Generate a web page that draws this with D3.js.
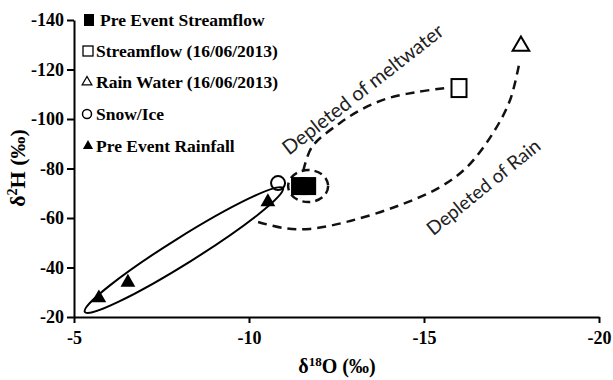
<!DOCTYPE html>
<meta charset="utf-8">

<style>

body { margin: 0; background: #fff; }

.axis path, .axis line { stroke: #000; stroke-width: 2px; }
.axis text { font: bold 18px "Liberation Serif", serif; fill: #000; }
.title { font: bold 20px "Liberation Serif", serif; fill: #000; }
.legend text { font: bold 17.5px "Liberation Serif", serif; fill: #000; }
.dash { fill: none; stroke: #111; stroke-width: 2.5px; stroke-dasharray: 9,6; }
.note { font: 20px Lato, sans-serif; fill: #222; }

</style>

<body>

<script src="https://d3js.org/d3.v7.min.js"></script>

<script>

	// tick values
	var xTicks = [-5, -10, -15, -20];
	var yTicks = [-20, -40, -60, -80, -100, -120, -140];

	// samples (d18O, d2H)
	var preStream  = [{x: -11.43, y: -72.9}, {x: -11.69, y: -72.9}];
	var stream     = [{x: -16.0, y: -112.5}];
	var rainWater  = [{x: -17.77, y: -129.5}];
	var snowIce    = [{x: -10.83, y: -74.1}];
	var preRain    = [{x: -5.71, y: -27.7}, {x: -6.54, y: -34.0}, {x: -10.54, y: -66.5}];

	// hand drawn guides
	var meltPath = [{x: -11.55, y: -79}, {x: -11.8, y: -88.7}, {x: -12.6, y: -98.4}, {x: -13.3, y: -104.5},
	                {x: -14.0, y: -108.5}, {x: -14.8, y: -110.9}, {x: -15.6, y: -112.5}];
	var rainPath = [{x: -10.26, y: -58.4}, {x: -10.97, y: -56.0}, {x: -11.74, y: -55.6}, {x: -12.89, y: -58.8},
	                {x: -14.31, y: -65.2}, {x: -15.46, y: -72.5}, {x: -16.23, y: -80.6}, {x: -16.97, y: -94.3},
	                {x: -17.46, y: -107.7}, {x: -17.74, y: -123.8}];
	var rainEllipse = [{x: -5.31, y: -22.0}, {x: -10.97, y: -72.1}];
	var streamEllipse = {x: -11.69, y: -72.9};

	var legendNames = ["Pre Event Streamflow", "Streamflow (16/06/2013)", "Rain Water (16/06/2013)",
	                   "Snow/Ice", "Pre Event Rainfall"];

	var width = 613, height = 380;

	var x = d3.scaleLinear().domain([-5, -20]).range([74, 599]);
	var y = d3.scaleLinear().domain([-20, -140]).range([317, 20]);

	var svg = d3.select("body").append("svg")
		.attr("width", width)
		.attr("height", height);

	// axes
	svg.append("g")
		.attr("class", "axis")
		.attr("transform", "translate(0," + y(-20) + ")")
		.call(d3.axisBottom(x).tickValues(xTicks).tickSize(6).tickSizeOuter(0).tickPadding(8)
			.tickFormat(function(d) { return String(d); }));

	svg.append("g")
		.attr("class", "axis")
		.attr("transform", "translate(" + x(-5) + ",0)")
		.call(d3.axisLeft(y).tickValues(yTicks).tickSize(7).tickSizeOuter(0).tickPadding(3)
			.tickFormat(function(d) { return String(d); }));

	// axis titles
	var xt = svg.append("text").attr("class", "title")
		.attr("x", 337).attr("y", 373).attr("text-anchor", "middle");
	xt.append("tspan").text("δ");
	xt.append("tspan").attr("dy", -7).style("font-size", "13px").text("18");
	xt.append("tspan").attr("dy", 7).text("O (‰)");

	var yt = svg.append("text").attr("class", "title")
		.style("font-size", "22px")
		.attr("transform", "translate(25,168) rotate(-90)").attr("text-anchor", "middle");
	yt.append("tspan").text("δ");
	yt.append("tspan").attr("dy", -8).style("font-size", "14px").text("2");
	yt.append("tspan").attr("dy", 8).text("H (‰)");

	// solid ellipse round the pre event rainfall
	var p0 = [x(rainEllipse[0].x), y(rainEllipse[0].y)],
	    p1 = [x(rainEllipse[1].x), y(rainEllipse[1].y)];
	var ang = Math.atan2(p1[1] - p0[1], p1[0] - p0[0]) * 180 / Math.PI;
	svg.append("ellipse")
		.attr("cx", 0).attr("cy", 0)
		.attr("rx", Math.hypot(p1[0] - p0[0], p1[1] - p0[1]) / 2)
		.attr("ry", 13)
		.attr("transform", "translate(" + (p0[0] + p1[0]) / 2 + "," + (p0[1] + p1[1]) / 2 + ") rotate(" + ang + ")")
		.style("fill", "none").style("stroke", "#000").style("stroke-width", 2);

	// dashed ellipse round the pre event streamflow
	svg.append("ellipse")
		.attr("class", "dash")
		.attr("cx", x(streamEllipse.x)).attr("cy", y(streamEllipse.y))
		.attr("rx", 20).attr("ry", 16)
		.style("stroke-dasharray", "8,5");

	// guide curves
	var line = d3.line()
		.x(function(d) { return x(d.x); })
		.y(function(d) { return y(d.y); })
		.curve(d3.curveCatmullRom);

	svg.append("path").datum(meltPath).attr("class", "dash").attr("d", line);
	svg.append("path").datum(rainPath).attr("class", "dash").attr("d", line);

	// notes
	svg.append("text").attr("class", "note")
		.attr("transform", "translate(" + x(-13.25) + "," + y(-112) + ") rotate(-38)")
		.attr("text-anchor", "middle").attr("dy", "0.35em")
		.text("Depleted of meltwater");
	svg.append("text").attr("class", "note")
		.style("font-size", "19px")
		.attr("transform", "translate(" + x(-16.7) + "," + y(-72.5) + ") rotate(-39)")
		.attr("text-anchor", "middle").attr("dy", "0.35em")
		.text("Depleted of Rain");

	// points
	svg.selectAll(".pre").data(preStream).enter().append("rect")
		.attr("x", function(d) { return x(d.x) - 8; })
		.attr("y", function(d) { return y(d.y) - 9; })
		.attr("width", 16).attr("height", 18)
		.style("fill", "#000");

	svg.selectAll(".st").data(stream).enter().append("rect")
		.attr("x", function(d) { return x(d.x) - 7.5; })
		.attr("y", function(d) { return y(d.y) - 9; })
		.attr("width", 15).attr("height", 18)
		.style("fill", "#fff").style("stroke", "#000").style("stroke-width", 2);

	svg.selectAll(".rw").data(rainWater).enter().append("path")
		.attr("transform", function(d) { return "translate(" + x(d.x) + "," + y(d.y) + ")"; })
		.attr("d", d3.symbol(d3.symbolTriangle, 120))
		.style("fill", "#fff").style("stroke", "#000").style("stroke-width", 2);

	svg.selectAll(".sn").data(snowIce).enter().append("circle")
		.attr("cx", function(d) { return x(d.x); })
		.attr("cy", function(d) { return y(d.y); })
		.attr("r", 7)
		.style("fill", "none").style("stroke", "#000").style("stroke-width", 2);

	svg.selectAll(".pr").data(preRain).enter().append("path")
		.attr("transform", function(d) { return "translate(" + x(d.x) + "," + y(d.y) + ")"; })
		.attr("d", d3.symbol(d3.symbolTriangle, 95))
		.style("fill", "#000");

	// legend
	var leg = svg.append("g").attr("class", "legend");
	var rowY = [20, 51, 82, 114, 146];

	leg.append("rect").attr("x", 84).attr("y", rowY[0] - 6).attr("width", 10).attr("height", 12).style("fill", "#000");
	leg.append("rect").attr("x", 83).attr("y", rowY[1] - 5).attr("width", 10).attr("height", 10)
		.style("fill", "#fff").style("stroke", "#000").style("stroke-width", 1.3);
	leg.append("path").attr("transform", "translate(87," + rowY[2] + ")").attr("d", d3.symbol(d3.symbolTriangle, 40))
		.style("fill", "#fff").style("stroke", "#000").style("stroke-width", 1.3);
	leg.append("circle").attr("cx", 87).attr("cy", rowY[3]).attr("r", 4.5)
		.style("fill", "#fff").style("stroke", "#000").style("stroke-width", 1.5);
	leg.append("path").attr("transform", "translate(88," + rowY[4] + ")").attr("d", d3.symbol(d3.symbolTriangle, 45))
		.style("fill", "#000");

	leg.selectAll("text").data(legendNames).enter().append("text")
		.attr("x", function(d, i) { return i == 0 ? 100 : 96; })
		.attr("y", function(d, i) { return rowY[i]; })
		.attr("dy", "0.35em")
		.text(function(d) { return d; });

</script>
</body>
